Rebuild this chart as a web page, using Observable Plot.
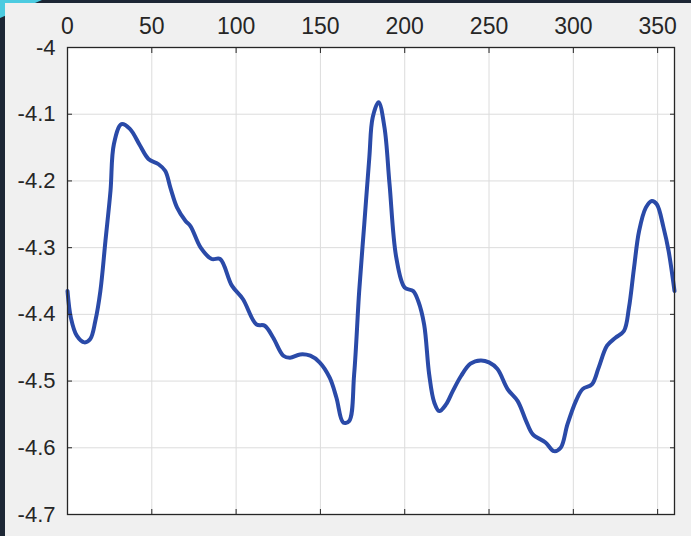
<!DOCTYPE html>
<html>
<head>
<meta charset="utf-8">
<script src="https://cdn.jsdelivr.net/npm/d3@7"></script>
<script src="https://cdn.jsdelivr.net/npm/@observablehq/plot@0.6"></script>
<style>
  html, body { margin: 0; padding: 0; }
  body { width: 691px; height: 536px; background: #1d2735; position: relative; overflow: hidden; font-family: "Liberation Sans", Arial, sans-serif; }
  #corner { position: absolute; left: 0; top: 0; width: 0; height: 0; border-top: 18px solid #4ccbe0; border-right: 42px solid transparent; }
  #panel { position: absolute; left: 5px; top: 3px; right: 0; bottom: 0; background: #f0f0f0; }
  #chart { position: absolute; left: 0; top: 0; }
</style>
</head>
<body>
<div id="corner"></div>
<div id="panel"></div>
<div id="chart"></div>
<script>
const xs = [0, 2, 5.5, 10, 13.5, 16.5, 19.5, 22.5, 25.5, 27.5, 32, 37, 43, 48, 54, 58, 61, 65, 70, 73, 79, 85.5, 90.5, 97.5, 104, 112, 117, 122, 128, 132, 138, 144, 149.5, 155.5, 159.5, 163.5, 167, 170, 173, 176, 179, 181, 184.5, 188, 191, 195, 200, 205, 208, 211.5, 214.5, 217.5, 220.5, 224.5, 228.5, 233.5, 239, 245, 250, 255, 261, 267, 272, 276, 283.5, 288.5, 292.5, 296.5, 301.5, 305.5, 311, 315, 320, 325, 330, 333, 336, 339, 343, 346.5, 349.5, 353.5, 356.5, 360];
const ys = [-4.365, -4.405, -4.432, -4.442, -4.437, -4.41, -4.365, -4.29, -4.215, -4.145, -4.115, -4.122, -4.147, -4.167, -4.175, -4.185, -4.21, -4.24, -4.26, -4.268, -4.30, -4.317, -4.317, -4.357, -4.377, -4.415, -4.417, -4.435, -4.462, -4.465, -4.46, -4.462, -4.472, -4.495, -4.525, -4.562, -4.56, -4.49, -4.365, -4.265, -4.165, -4.105, -4.082, -4.12, -4.205, -4.315, -4.36, -4.365, -4.38, -4.415, -4.49, -4.532, -4.545, -4.535, -4.515, -4.492, -4.474, -4.469, -4.472, -4.482, -4.512, -4.53, -4.56, -4.58, -4.592, -4.605, -4.60, -4.565, -4.53, -4.512, -4.505, -4.48, -4.447, -4.435, -4.425, -4.39, -4.33, -4.275, -4.24, -4.23, -4.235, -4.27, -4.305, -4.365];
const xTicks = [0, 50, 100, 150, 200, 250, 300, 350];
const yTicks = [-4, -4.1, -4.2, -4.3, -4.4, -4.5, -4.6, -4.7];

const data = xs.map((x, i) => ({x, y: ys[i]}));
const axisColor = "#262626";

const chart = Plot.plot({
  width: 691,
  height: 536,
  marginLeft: 67,
  marginTop: 47,
  marginRight: 17,
  marginBottom: 22,
  style: {background: "transparent", fontFamily: "'Liberation Sans', Arial, sans-serif", color: axisColor},
  x: {domain: [0, 360]},
  y: {domain: [-4.7, -4]},
  marks: [
    Plot.frame({fill: "white", stroke: null}),
    Plot.gridX(xTicks, {stroke: "#dcdcdc", strokeOpacity: 1, strokeWidth: 1}),
    Plot.gridY(yTicks, {stroke: "#dcdcdc", strokeOpacity: 1, strokeWidth: 1}),
    Plot.line(data, {x: "x", y: "y", stroke: "#2a4aa8", strokeWidth: 4, curve: "catmull-rom", strokeLinejoin: "round", strokeLinecap: "round"}),
    Plot.frame({stroke: axisColor, strokeWidth: 1.3}),
    Plot.axisX(xTicks, {anchor: "top", tickSize: -5, tickPadding: 19, fontSize: 23, tickFormat: d => String(d), label: null, stroke: axisColor, fill: axisColor}),
    Plot.axisX(xTicks, {anchor: "bottom", tickSize: -5, tickFormat: () => "", label: null, stroke: axisColor}),
    Plot.axisY(yTicks, {anchor: "left", tickSize: -5, tickPadding: 17, fontSize: 22, tickFormat: d => String(d), label: null, stroke: axisColor, fill: axisColor}),
    Plot.axisY(yTicks, {anchor: "right", tickSize: -5, tickFormat: () => "", label: null, stroke: axisColor})
  ]
});
document.getElementById("chart").appendChild(chart);
</script>
</body>
</html>
